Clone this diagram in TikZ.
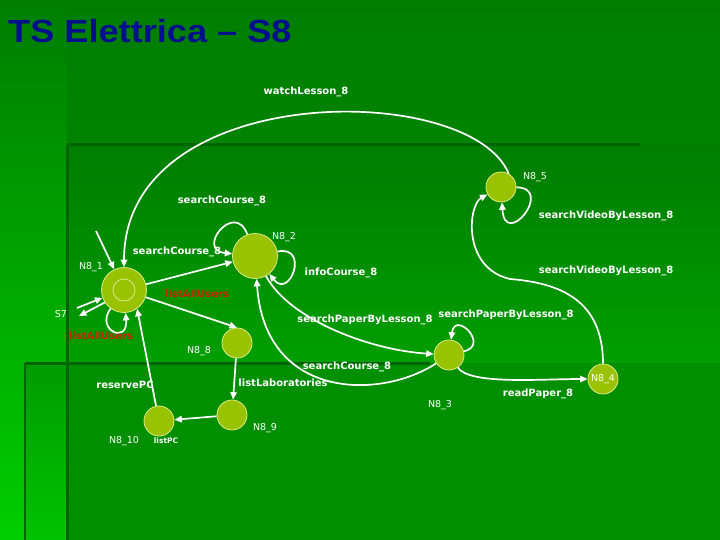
\documentclass[tikz,border=0pt]{standalone}
\usepackage{fontspec}
\setmainfont{DejaVu Sans}
\newfontfamily\titlefont{Liberation Sans}
\usetikzlibrary{arrows.meta,positioning}
\definecolor{bgtop}{RGB}{0,125,0}
\definecolor{bgbottom}{RGB}{0,150,0}
\definecolor{stripbottom}{RGB}{0,205,0}
\definecolor{panelbottom}{RGB}{0,158,0}
\definecolor{darkband}{RGB}{0,100,0}
\definecolor{statefill}{RGB}{153,194,0}
\definecolor{stateline}{RGB}{222,236,140}
\definecolor{labelred}{RGB}{205,35,5}
\definecolor{titleblue}{RGB}{0,15,140}

\begin{document}
\begin{tikzpicture}[x=1pt,y=-1pt,
      state/.style = {circle, fill=statefill, draw=stateline, line width=0.8pt,
                      minimum size=30pt, inner sep=0pt, text=white,
                      font=\fontsize{9.5}{10}\selectfont},
      bigstate/.style = {state, minimum size=45pt},
      sname/.style = {text=white, inner sep=0pt, font=\fontsize{9.5}{10}\selectfont},
      rel/.style = {text=white, inner sep=0pt, font=\bfseries\fontsize{10}{11}\selectfont},
      relred/.style = {rel, text=labelred},
      trans/.style = {-{Triangle[length=7.5pt,width=6.5pt]}, draw=white, line width=1.7pt},
      band/.style = {draw=darkband, line width=3pt}
      ]
      \useasboundingbox (0,0) rectangle (720,540);
      % background
      \shade[top color=bgtop, bottom color=bgbottom] (0,0) rectangle (720,540);
      \shade[top color=bgtop, bottom color=stripbottom] (0,0) rectangle (67,540);
      \shade[top color=bgtop, bottom color=panelbottom] (67,145) rectangle (720,363);
      \shade[top color=bgbottom!90!stripbottom, bottom color=stripbottom!80!bgbottom] (25,363) rectangle (67,540);
      \fill[bgbottom!95!black] (67,363) rectangle (720,540);
      \draw[band] (67,145) -- (640,145);
      \draw[band] (67,145) -- (67,540);
      \draw[band] (25,363) -- (430,363);
      \draw[band, line width=2pt] (25,363) -- (25,540);

      \node[anchor=base west, text=titleblue, inner sep=0pt, xscale=1.13, transform shape,
            font=\titlefont\bfseries\fontsize{32}{34}\selectfont] (title) at (8,43) {TS Elettrica – S8};

      % states
      \node[bigstate] (n81) at (124,290) {};
      \draw[stateline, line width=0.8pt] (n81.center) circle (11pt);
      \node[bigstate] (n82) at (255,256) {};
      \node[state] (n85) at (501,187) {};
      \node[state] (n88) at (237,343) {};
      \node[state] (n83) at (449,355) {};
      \node[state] (n84) at (603,379) {N8\_4};
      \node[state] (n89) at (232,415) {};
      \node[state] (n810) at (159,421) {};

      \node[sname] (t81) at (91,267) {N8\_1};
      \node[sname] (t82) at (284,237) {N8\_2};
      \node[sname] (t85) at (535,177) {N8\_5};
      \node[sname] (t88) at (199,351) {N8\_8};
      \node[sname] (t83) at (440,405) {N8\_3};
      \node[sname] (t89) at (265,428) {N8\_9};
      \node[sname] (t810) at (124,441) {N8\_10};
      \node[sname] (s7) at (61,314) {S7};

      \coordinate (init) at (96,231);
      \coordinate (s7a) at (77,308);
      \coordinate (s7b) at (79,316);

      % transitions
      \draw[trans] (init) -- (n81);
      \draw[trans] (s7a) -- (n81.200);
      \draw[trans] (n81.213) -- (s7b);
      \draw[trans] (n81) .. controls (95,330) and (128,345) .. (n81);
      \draw[trans] (n81) -- (n82);
      \draw[trans] (n81) -- (n88.north);
      \draw[trans] (n82) .. controls (235,200) and (195,250) .. (n82);
      \draw[trans] (n82) .. controls (310,245) and (290,300) .. (n82);
      \draw[trans] (n82) .. controls (290,320) and (370,350) .. (n83);
      \draw[trans] (n83) .. controls (380,400) and (265,400) .. (n82);
      \draw[trans] (n83) .. controls (490,345) and (455,310) .. (n83);
      \draw[trans] (n83) .. controls (470,385) and (540,379) .. (n84);
      \draw[trans] (n84) .. controls (603,300) and (560,283) .. (510,279)
                         .. controls (462,268) and (468,205) .. (n85);
      \draw[trans] (n85) .. controls (555,188) and (505,250) .. (n85);
      \draw[trans] (n85.60) .. controls (470,80) and (124,80) .. (n81);
      \draw[trans] (n88) -- (n89);
      \draw[trans] (n89) -- (n810);
      \draw[trans] (n810) -- (n81.-55);

      % labels
      \node[rel] (lwatch) at (306,92) {watchLesson\_8};
      \node[rel] (lsc1) at (222,201) {searchCourse\_8};
      \node[rel] (lsv1) at (606,216) {searchVideoByLesson\_8};
      \node[rel] (lsc2) at (177,252) {searchCourse\_8};
      \node[rel] (linfo) at (341,273) {infoCourse\_8};
      \node[rel] (lsv2) at (606,271) {searchVideoByLesson\_8};
      \node[relred] (lall1) at (197,294) {listAllUsers};
      \node[relred] (lall2) at (101,336) {listAllUsers};
      \node[rel] (lsp1) at (365,320) {searchPaperByLesson\_8};
      \node[rel] (lsp2) at (506,315) {searchPaperByLesson\_8};
      \node[rel] (lsc3) at (347,367) {searchCourse\_8};
      \node[rel] (llab) at (283,383) {listLaboratories};
      \node[rel] (lres) at (125,385) {reservePC};
      \node[rel] (lread) at (538,394) {readPaper\_8};
      \node[rel, font=\bfseries\fontsize{7.5}{8}\selectfont] (lpc) at (166,441) {listPC};
    \end{tikzpicture}
\end{document}
